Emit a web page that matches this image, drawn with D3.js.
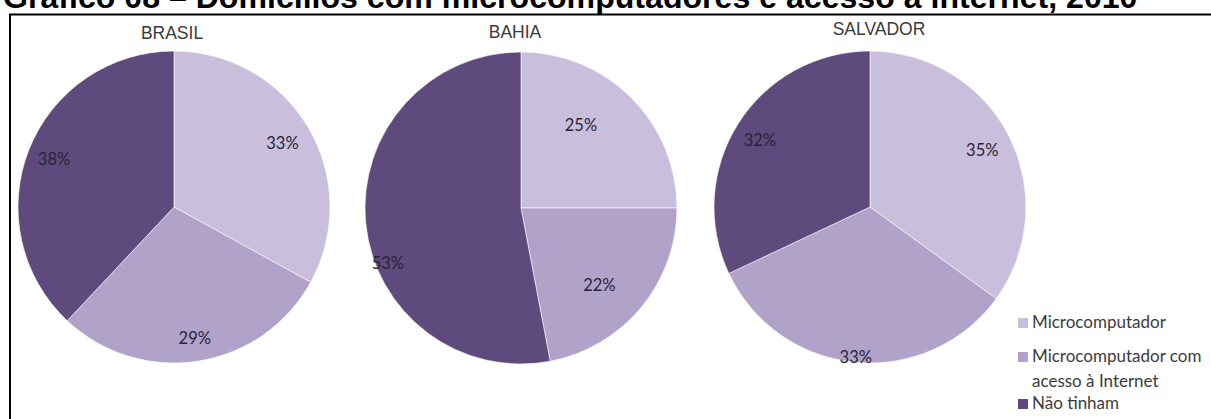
<!DOCTYPE html>
<html>
<head>
<meta charset="utf-8">
<script src="https://cdn.jsdelivr.net/npm/d3@7"></script>
<style>
  html, body { margin: 0; padding: 0; background: #fff; overflow: hidden; }
  svg { display: block; }
</style>
</head>
<body>
<svg id="chart" width="1211" height="419"></svg>
<script>
// Domicílios com microcomputadores e acesso à internet, 2010
const chartTitle = "Gráfico 08 – Domicílios com microcomputadores e acesso à internet, 2010";
const regions = ["BRASIL", "BAHIA", "SALVADOR"];
const categories = ["Microcomputador", "Microcomputador com acesso à Internet", "Não tinham"];
const legendLines = [["Microcomputador"], ["Microcomputador com", "acesso à Internet"], ["Não tinham"]];
const brasilValues = [33, 29, 38];
const bahiaValues = [25, 22, 53];
const salvadorValues = [35, 33, 32];
const seriesByRegion = [brasilValues, bahiaValues, salvadorValues];

// layout
const colors = ["#c9bfdc", "#b0a2c9", "#5f4a7d"];
const pieCenters = [[174, 207], [521, 208], [870, 207]];
const pieRadius = 156;
const titleY = [39, 38, 35];
// label placement per slice: [angle shift in degrees, distance from centre]
const labelPlacement = [
  [[0, 126], [0, 133], [0, 129]],
  [[-9, 102], [5, 110], [-17, 144]],
  [[0, 126], [0, 151], [-1, 129]]
];

const svg = d3.select("#chart");

// heading, clipped at the top edge
const title = svg.append("text")
  .attr("x", 3).attr("y", 7.5)
  .attr("font-family", "Liberation Sans, Arial, sans-serif")
  .attr("font-weight", "bold")
  .attr("font-size", 24)
  .attr("fill", "#000")
  .text(chartTitle);
const tw = title.node().getComputedTextLength();
title.attr("font-size", 24 * 1135 / tw);

// frame
svg.append("rect")
  .attr("x", 10).attr("y", 14.5)
  .attr("width", 1240).attr("height", 440)
  .attr("fill", "none").attr("stroke", "#000").attr("stroke-width", 2);

const pie = d3.pie().sort(null).value(d => d);
const arc = d3.arc().innerRadius(0).outerRadius(pieRadius);
const color = d3.scaleOrdinal().domain(d3.range(categories.length)).range(colors);

regions.forEach((name, ri) => {
  const [cx, cy] = pieCenters[ri];
  const g = svg.append("g").attr("transform", `translate(${cx},${cy})`);
  const arcs = pie(seriesByRegion[ri]);

  g.selectAll("path.slice")
    .data(arcs)
    .join("path")
    .attr("class", "slice")
    .attr("d", arc)
    .attr("fill", (d, i) => color(i))
    .attr("stroke", "#fff")
    .attr("stroke-width", 0.6);

  g.selectAll("text.pct")
    .data(arcs)
    .join("text")
    .attr("class", "pct")
    .attr("transform", (d, i) => {
      const [shift, dist] = labelPlacement[ri][i];
      const a = (d.startAngle + d.endAngle) / 2 + shift * Math.PI / 180;
      return `translate(${dist * Math.sin(a)},${-dist * Math.cos(a)})`;
    })
    .attr("text-anchor", "middle")
    .attr("dy", "0.36em")
    .attr("font-family", "Lato, 'Open Sans', sans-serif")
    .attr("font-size", 16.5)
    .attr("fill", "#2a2438")
    .text(d => d.data + "%");

  svg.append("text")
    .attr("x", ri === 0 ? cx - 2 : ri === 1 ? cx - 6 : cx + 9)
    .attr("y", titleY[ri])
    .attr("text-anchor", "middle")
    .attr("font-family", "Liberation Sans, Arial, sans-serif")
    .attr("font-size", 17.5)
    .attr("fill", "#3a3a3a")
    .text(name);
});

// legend
const legendRows = [328, 362, 409];
const legend = svg.append("g");
legendLines.forEach((lines, i) => {
  legend.append("rect")
    .attr("x", 1018).attr("y", legendRows[i] - 10)
    .attr("width", 10).attr("height", 10)
    .attr("fill", color(i));
  const t = legend.append("text")
    .attr("x", 1032).attr("y", legendRows[i])
    .attr("font-family", "Lato, 'Open Sans', sans-serif")
    .attr("font-size", 17)
    .attr("fill", "#3c3c3c");
  lines.forEach((ln, j) => {
    t.append("tspan").attr("x", 1032).attr("dy", j === 0 ? 0 : 25).text(ln);
  });
});
</script>
</body>
</html>
